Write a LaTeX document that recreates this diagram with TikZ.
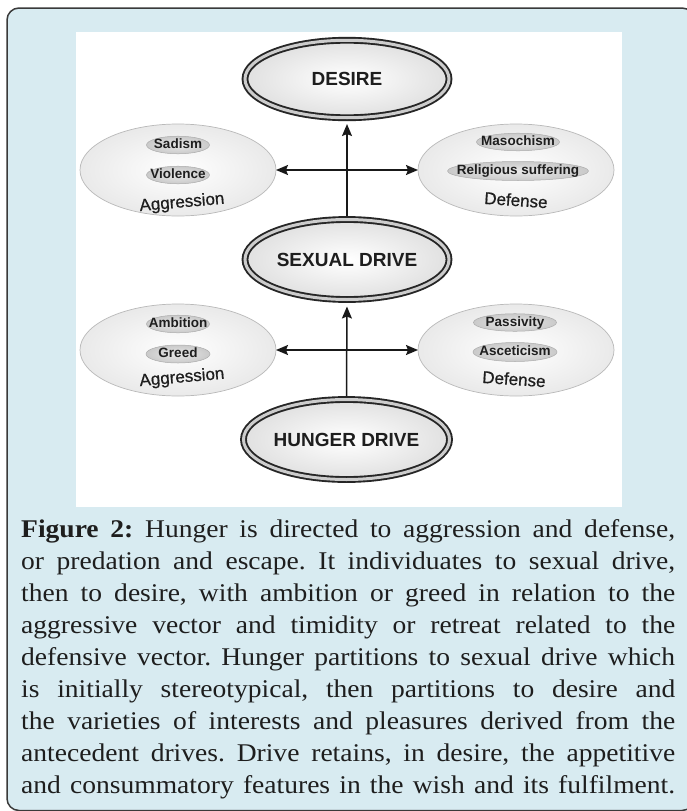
\documentclass[tikz,border=0pt]{standalone}
\usepackage{fontspec}
\setmainfont{Liberation Serif}[FakeStretch=1.08]
\newfontfamily\arialf{Liberation Sans}
\newfontfamily\arialmed{Liberation Sans}[FakeBold=0.7]
\usetikzlibrary{shapes.geometric,arrows.meta}
\definecolor{bgblue}{HTML}{D8EBF1}
\definecolor{framec}{HTML}{3A3A3A}
\definecolor{ink}{HTML}{1E1E1E}
\frenchspacing
\begin{document}
\begin{tikzpicture}[x=1pt,y=-1pt,
  mainell/.style={ellipse, draw=black!85, line width=1.9pt, double=gray!40, double distance=3pt,
    inner color=white, outer color=gray!24, minimum width=204pt, minimum height=80pt,
    inner sep=0pt, outer sep=0pt, font=\arialf\bfseries\fontsize{19}{21}\selectfont, text=ink},
  sideell/.style={ellipse, draw=gray!55, line width=0.7pt, inner color=white, outer color=gray!17,
    minimum width=196pt, minimum height=92pt, inner sep=0pt, outer sep=0pt},
  pill/.style={ellipse, draw=gray!65, line width=0.5pt, inner color=gray!18, outer color=gray!42,
    minimum height=17pt, inner sep=0pt, outer sep=0pt, text height=9.8pt, text depth=2.6pt,
    font=\arialf\bfseries\fontsize{13.5}{15}\selectfont, text=ink},
  grouplabel/.style={font=\arialmed\fontsize{17}{19}\selectfont, text=ink, inner sep=0pt},
  link/.style={line width=1.5pt, draw=black!90, arrows={-Stealth[length=12pt,width=10pt,inset=2pt]}},
  biline/.style={line width=1.5pt, draw=black!90,
    arrows={Stealth[length=12pt,width=10pt,inset=2pt]-Stealth[length=12pt,width=10pt,inset=2pt]}},
  capline/.style={anchor=base west, inner sep=0pt, font=\fontsize{25.5}{30}\selectfont, text=ink}
]
\useasboundingbox (0,0) rectangle (686,811);
\fill[white] (0,0) rectangle (686,811);
\draw[framec, line width=1.5pt, fill=bgblue, rounded corners=12pt] (7,8) rectangle (694,810.5);
\fill[white] (76,32) rectangle (622,507);

% main ellipses
\node[mainell, minimum height=77.5pt] (desire) at (347,79) {DESIRE};
\node[mainell] (sexual) at (347,259.5) {SEXUAL DRIVE};
\node[mainell] (hunger) at (346.5,439.5) {HUNGER DRIVE};

% side ellipses
\node[sideell] (aggtop) at (178,170) {};
\node[sideell] (deftop) at (516,170) {};
\node[sideell] (aggbot) at (178,350) {};
\node[sideell] (defbot) at (516,350) {};

% pills and labels
\node[pill, minimum width=63pt] (sadism) at (178,145) {\makebox[0pt]{Sadism}};
\node[pill, minimum width=63pt] (violence) at (178,175) {\makebox[0pt]{Violence}};
\node[grouplabel, rotate=5] (agg1) at (182,203) {Aggression};
\node[pill, minimum width=83pt] (masochism) at (518,142) {\makebox[0pt]{Masochism}};
\node[pill, minimum width=141pt, minimum height=19pt] (religious) at (518,171) {\makebox[0pt]{Religious suffering}};
\node[grouplabel, rotate=-4] (def1) at (516,200) {Defense};
\node[pill, minimum width=63pt] (ambition) at (178,324) {\makebox[0pt]{Ambition}};
\node[pill, minimum width=64pt, minimum height=18pt] (greed) at (178,354) {\makebox[0pt]{Greed}};
\node[grouplabel, rotate=5] (agg2) at (182,378) {Aggression};
\node[pill, minimum width=83pt] (passivity) at (515,322.5) {\makebox[0pt]{Passivity}};
\node[pill, minimum width=84pt, minimum height=19pt] (asceticism) at (515,352) {\makebox[0pt]{Asceticism}};
\node[grouplabel, rotate=-4] (def2) at (514,379) {Defense};

% connectors
\draw[link, shorten <=3.3pt, shorten >=6.3pt] (sexual.north) -- (desire.south);
\draw[link, shorten <=3.5pt, shorten >=7pt] (hunger.north) -- (sexual.south);
\draw[biline] (aggtop.east) -- (deftop.west);
\draw[biline] (aggbot.east) -- (defbot.west);

% caption
\node[capline] (cap1) at (21,537) {\makebox[654pt][s]{\textbf{Figure 2:} Hunger is directed to aggression and defense,}};
\node[capline] (cap2) at (21,569) {\makebox[654pt][s]{or predation and escape. It individuates to sexual drive,}};
\node[capline] (cap3) at (21,601) {\makebox[654pt][s]{then to desire, with ambition or greed in relation to the}};
\node[capline] (cap4) at (21,633) {\makebox[654pt][s]{aggressive vector and timidity or retreat related to the}};
\node[capline] (cap5) at (21,665) {\makebox[654pt][s]{defensive vector. Hunger partitions to sexual drive which}};
\node[capline] (cap6) at (21,697) {\makebox[654pt][s]{is initially stereotypical, then partitions to desire and}};
\node[capline] (cap7) at (21,729) {\makebox[654pt][s]{the varieties of interests and pleasures derived from the}};
\node[capline] (cap8) at (21,761) {\makebox[654pt][s]{antecedent drives. Drive retains, in desire, the appetitive}};
\node[capline] (cap9) at (21,793) {\makebox[654pt][s]{and consummatory features in the wish and its fulfilment.}};
\end{tikzpicture}
\end{document}
